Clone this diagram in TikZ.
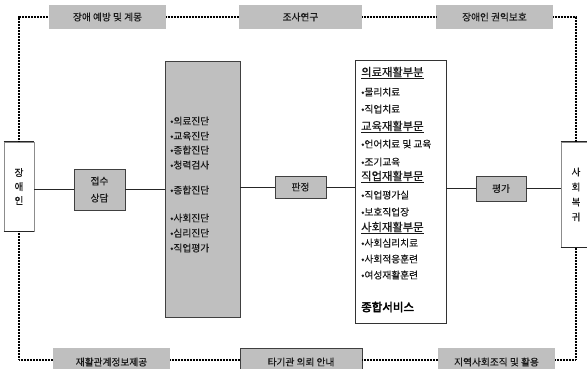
\documentclass[tikz,border=0pt]{standalone}
\usepackage{fontspec}
\setmainfont{Noto Sans CJK KR}
\newfontfamily\krbold[FakeBold=3]{Noto Sans CJK KR}
\newfontfamily\krmed[FakeBold=0.4]{Noto Sans CJK KR}
\begin{document}
\begin{tikzpicture}[x=1pt,y=-1pt,
  txt/.style={text=black!90, font=\fontsize{9.7}{11}\krmed, inner sep=0pt},
  graybox/.style={draw=black!75, fill=black!25, line width=0.8pt, inner sep=0pt, txt},
  plainbox/.style={fill=black!25, inner sep=0pt, txt},
  whitebox/.style={draw=black!80, fill=white, line width=0.8pt, inner sep=0pt, txt},
  dotline/.style={line width=1.7pt, dash pattern=on 1pt off 0.5pt, black},
  solidline/.style={line width=0.8pt, black!85},
  item/.style={txt, anchor=west},
  head/.style={txt, anchor=west, font=\fontsize{11.3}{13}\krmed}
]
\useasboundingbox (0,0) rectangle (587,369);

% top boxes
\node[plainbox, minimum width=117pt, minimum height=24pt] (b1) at (107.5,17) {장애 예방 및 계몽};
\node[plainbox, minimum width=123pt, minimum height=24pt] (b2) at (300.5,17) {조사연구};
\node[plainbox, minimum width=117pt, minimum height=24pt] (b3) at (494.5,17) {장애인 권익보호};

% bottom boxes
\node[plainbox, minimum width=117pt, minimum height=28pt] (c1) at (111.5,362) {재활관계정보제공};
\node[graybox, minimum width=122pt, minimum height=28pt] (c2) at (301,362) {타기관 의뢰 안내};
\node[plainbox, minimum width=117pt, minimum height=28pt] (c3) at (496.5,362) {지역사회조직 및 활용};

% side boxes
\node[whitebox, draw=black!45, minimum width=30pt, minimum height=89pt, align=center, font=\fontsize{9.7}{14}\krmed] (L) at (19,186.5) {장\\애\\인};
\draw[line width=1pt, black!85] (L.north west) -- (L.north east) (L.south west) -- (L.south east);
\node[whitebox, draw=black!45, minimum width=30pt, minimum height=105pt, align=center, font=\fontsize{9.7}{15}\krmed] (R) at (576,194.5) {사\\회\\복\\귀};
\draw[line width=1pt, black!85] (R.north west) -- (R.north east) (R.south west) -- (R.south east);

% main row
\node[graybox, minimum width=51pt, minimum height=41pt, align=center, font=\fontsize{9.7}{17}\krmed] (J) at (99.5,189.5) {접수\\상담};
\node[graybox, minimum width=75pt, minimum height=256pt] (G) at (202.5,189) {};
\node[graybox, minimum width=51pt, minimum height=22pt] (P) at (300.5,187) {판정};
\node[whitebox, minimum width=91pt, minimum height=263pt] (W) at (400.5,191.5) {};
\node[graybox, minimum width=50pt, minimum height=25pt] (E) at (501,188.5) {평가};

% gray box items
\node[item] (g1) at (170,121) {•의료진단};
\node[item] (g2) at (170,136) {•교육진단};
\node[item] (g3) at (170,150) {•종합진단};
\node[item] (g4) at (170,165) {•청력검사};
\node[item] (g5) at (170,190) {•종합진단};
\node[item] (g6) at (170,218) {•사회진단};
\node[item] (g7) at (170,233) {•심리진단};
\node[item] (g8) at (170,248) {•직업평가};

% white box items
\node[head] (w1) at (361,73) {\underline{의료재활부분}};
\node[item] (w2) at (361,92) {•물리치료};
\node[item] (w3) at (361,109) {•직업치료};
\node[head] (w4) at (361,127) {\underline{교육재활부문}};
\node[item] (w5) at (361,144) {•언어치료 및 교육};
\node[item] (w6) at (361,162) {•조기교육};
\node[head] (w7) at (361,177) {\underline{직업재활부문}};
\node[item] (w8) at (361,195) {•직업평가실};
\node[item] (w9) at (361,212) {•보호직업장};
\node[head] (w10) at (361,228) {\underline{사회재활부문}};
\node[item] (w11) at (361,243) {•사회심리치료};
\node[item] (w12) at (361,259) {•사회적응훈련};
\node[item] (w13) at (361,275) {•여성재활훈련};
\node[txt, anchor=west, text=black, font=\fontsize{11.5}{13}\krbold] (w14) at (361,307) {종합서비스};

% solid connectors
\draw[solidline] (J.west -| L.east) -- (J.west);
\draw[solidline] (J.east) -- (J.east -| G.west);
\draw[solidline] (P.west -| G.east) -- (P.west);
\draw[solidline] (P.east) -- (P.east -| W.west);
\draw[solidline] (E.west -| W.east) -- (E.west);
\draw[solidline] (E.east) -- (E.east -| R.west);

% dotted loop
\coordinate (tl) at (19,17);
\coordinate (tr) at (576,17);
\coordinate (bl) at (19,360);
\coordinate (br) at (576,360);
\draw[dotline] (L.north) -- (tl) -- (b1.west);
\draw[dotline] (b1.east) -- (b2.west);
\draw[dotline] (b2.east) -- (b3.west);
\draw[dotline] (b3.east) -- (tr) -- (R.north);
\draw[dotline] (L.south) -- (bl) -- (bl -| c1.west);
\draw[dotline] (bl -| c1.east) -- (bl -| c2.west);
\draw[dotline] (bl -| c2.east) -- (bl -| c3.west);
\draw[dotline] (bl -| c3.east) -- (br) -- (R.south);
\end{tikzpicture}
\end{document}
